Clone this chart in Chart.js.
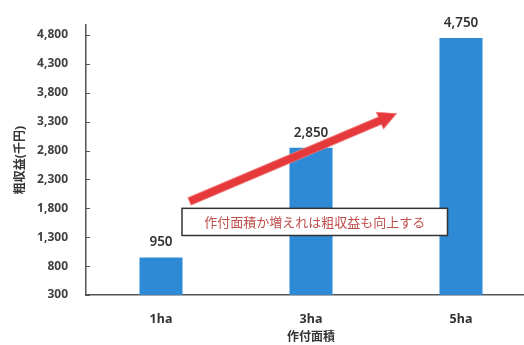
<!DOCTYPE html>
<html>
<head>
<meta charset="utf-8">
<script src="https://cdn.jsdelivr.net/npm/chart.js@4/dist/chart.umd.min.js"></script>
<style>
  html, body { margin: 0; padding: 0; background: #fff; overflow: hidden; }
  #wrap { width: 560px; height: 345px; }
</style>
</head>
<body>
<div id="wrap"><canvas id="revenueChart" width="560" height="345"></canvas></div>
<script>
// 作付面積ごとの粗収益（千円）
const areas = ['1ha', '3ha', '5ha'];
const revenue = [950, 2850, 4750];
const yTicks = [300, 800, 1300, 1800, 2300, 2800, 3300, 3800, 4300, 4800];

// 矢印と吹き出し（x はカテゴリ位置、y は千円）
const arrowFrom = [0.19, 1920];
const arrowTo = [1.57, 3440];
const noteBox = [0.14, 1800, 1.91, 1330];
const noteText = '作付面積か増えれは粗収益も向上する';

const fontFamily = "'Noto Sans', 'Noto Sans CJK JP', sans-serif";
const axisColor = '#555';

// 棒の上の数値
const valueLabels = {
    id: 'valueLabels',
    afterDatasetsDraw(chart) {
        const ctx = chart.ctx;
        const meta = chart.getDatasetMeta(0);
        ctx.save();
        ctx.font = '600 13.5px ' + fontFamily;
        ctx.fillStyle = '#333';
        ctx.textAlign = 'center';
        ctx.textBaseline = 'middle';
        meta.data.forEach((bar, i) => {
            ctx.fillText(revenue[i].toLocaleString('en-US'), bar.x, bar.y - 15);
        });
        ctx.restore();
    }
};

// Y軸の内向き目盛り
const innerTicks = {
    id: 'innerTicks',
    afterDraw(chart) {
        const ctx = chart.ctx;
        const y = chart.scales.y;
        ctx.save();
        ctx.strokeStyle = axisColor;
        ctx.lineWidth = 1;
        y.ticks.forEach(t => {
            const py = Math.round(y.getPixelForValue(t.value)) + 0.5;
            ctx.beginPath();
            ctx.moveTo(y.right, py);
            ctx.lineTo(y.right + 4, py);
            ctx.stroke();
        });
        ctx.restore();
    }
};

// 右上がりの矢印とコメント枠
const trendNote = {
    id: 'trendNote',
    afterDraw(chart) {
        const ctx = chart.ctx;
        const xs = chart.scales.x, ys = chart.scales.y;
        const x1 = xs.getPixelForValue(arrowFrom[0]), y1 = ys.getPixelForValue(arrowFrom[1]);
        const x2 = xs.getPixelForValue(arrowTo[0]), y2 = ys.getPixelForValue(arrowTo[1]);
        const ang = Math.atan2(y2 - y1, x2 - x1);
        const len = Math.hypot(x2 - x1, y2 - y1);
        const headLen = 18, headW = 9, shaftW = 4;

        ctx.save();
        ctx.translate(x1, y1);
        ctx.rotate(ang);
        ctx.beginPath();
        ctx.moveTo(0, -shaftW);
        ctx.lineTo(len - headLen, -shaftW);
        ctx.lineTo(len - headLen, -headW);
        ctx.lineTo(len, 0);
        ctx.lineTo(len - headLen, headW);
        ctx.lineTo(len - headLen, shaftW);
        ctx.lineTo(0, shaftW);
        ctx.closePath();
        ctx.fillStyle = '#e5393b';
        ctx.fill();
        ctx.strokeStyle = 'rgba(240,120,120,0.8)';
        ctx.lineWidth = 1;
        ctx.stroke();
        ctx.restore();

        const bx1 = xs.getPixelForValue(noteBox[0]), by1 = ys.getPixelForValue(noteBox[1]);
        const bx2 = xs.getPixelForValue(noteBox[2]), by2 = ys.getPixelForValue(noteBox[3]);
        ctx.save();
        ctx.fillStyle = '#fff';
        ctx.fillRect(bx1, by1, bx2 - bx1, by2 - by1);
        ctx.strokeStyle = '#333';
        ctx.lineWidth = 1.5;
        ctx.strokeRect(bx1, by1, bx2 - bx1, by2 - by1);
        ctx.font = '13px ' + fontFamily;
        ctx.fillStyle = '#c0504d';
        ctx.textAlign = 'center';
        ctx.textBaseline = 'middle';
        ctx.fillText(noteText, (bx1 + bx2) / 2, (by1 + by2) / 2 + 1);
        ctx.restore();
    }
};

new Chart(document.getElementById('revenueChart'), {
    type: 'bar',
    data: {
        labels: areas,
        datasets: [{
            data: revenue,
            backgroundColor: '#2f8ad6',
            categoryPercentage: 1,
            barPercentage: 0.287
        }]
    },
    options: {
        responsive: false,
        animation: false,
        layout: { padding: { top: 21, right: 24, left: 0, bottom: 0 } },
        plugins: {
            legend: { display: false },
            tooltip: { enabled: false }
        },
        scales: {
            x: {
                grid: { display: false, drawTicks: false },
                border: { color: axisColor, width: 1.5 },
                ticks: {
                    color: '#333',
                    padding: 17,
                    font: { family: fontFamily, size: 12.5, weight: 'bold' }
                },
                title: {
                    display: true,
                    text: '作付面積',
                    color: '#333',
                    padding: { top: 0, bottom: 0 },
                    font: { family: fontFamily, size: 12, weight: 'bold' }
                },
                afterFit(scale) { scale.height = 50; }
            },
            y: {
                min: 300,
                max: 4970,
                afterBuildTicks(scale) {
                    scale.ticks = yTicks.map(v => ({ value: v }));
                },
                grid: { display: false, drawTicks: false },
                border: { color: axisColor, width: 1.5 },
                ticks: {
                    color: '#404040',
                    padding: 18,
                    font: { family: fontFamily, size: 12, weight: 'bold' },
                    callback: v => v.toLocaleString('en-US')
                },
                title: {
                    display: true,
                    text: '粗収益(千円)',
                    color: '#333',
                    padding: { top: 13, bottom: 0 },
                    font: { family: fontFamily, size: 12, weight: 'bold' }
                },
                afterFit(scale) { scale.width = 86; }
            }
        }
    },
    plugins: [valueLabels, innerTicks, trendNote]
});
</script>
</body>
</html>
